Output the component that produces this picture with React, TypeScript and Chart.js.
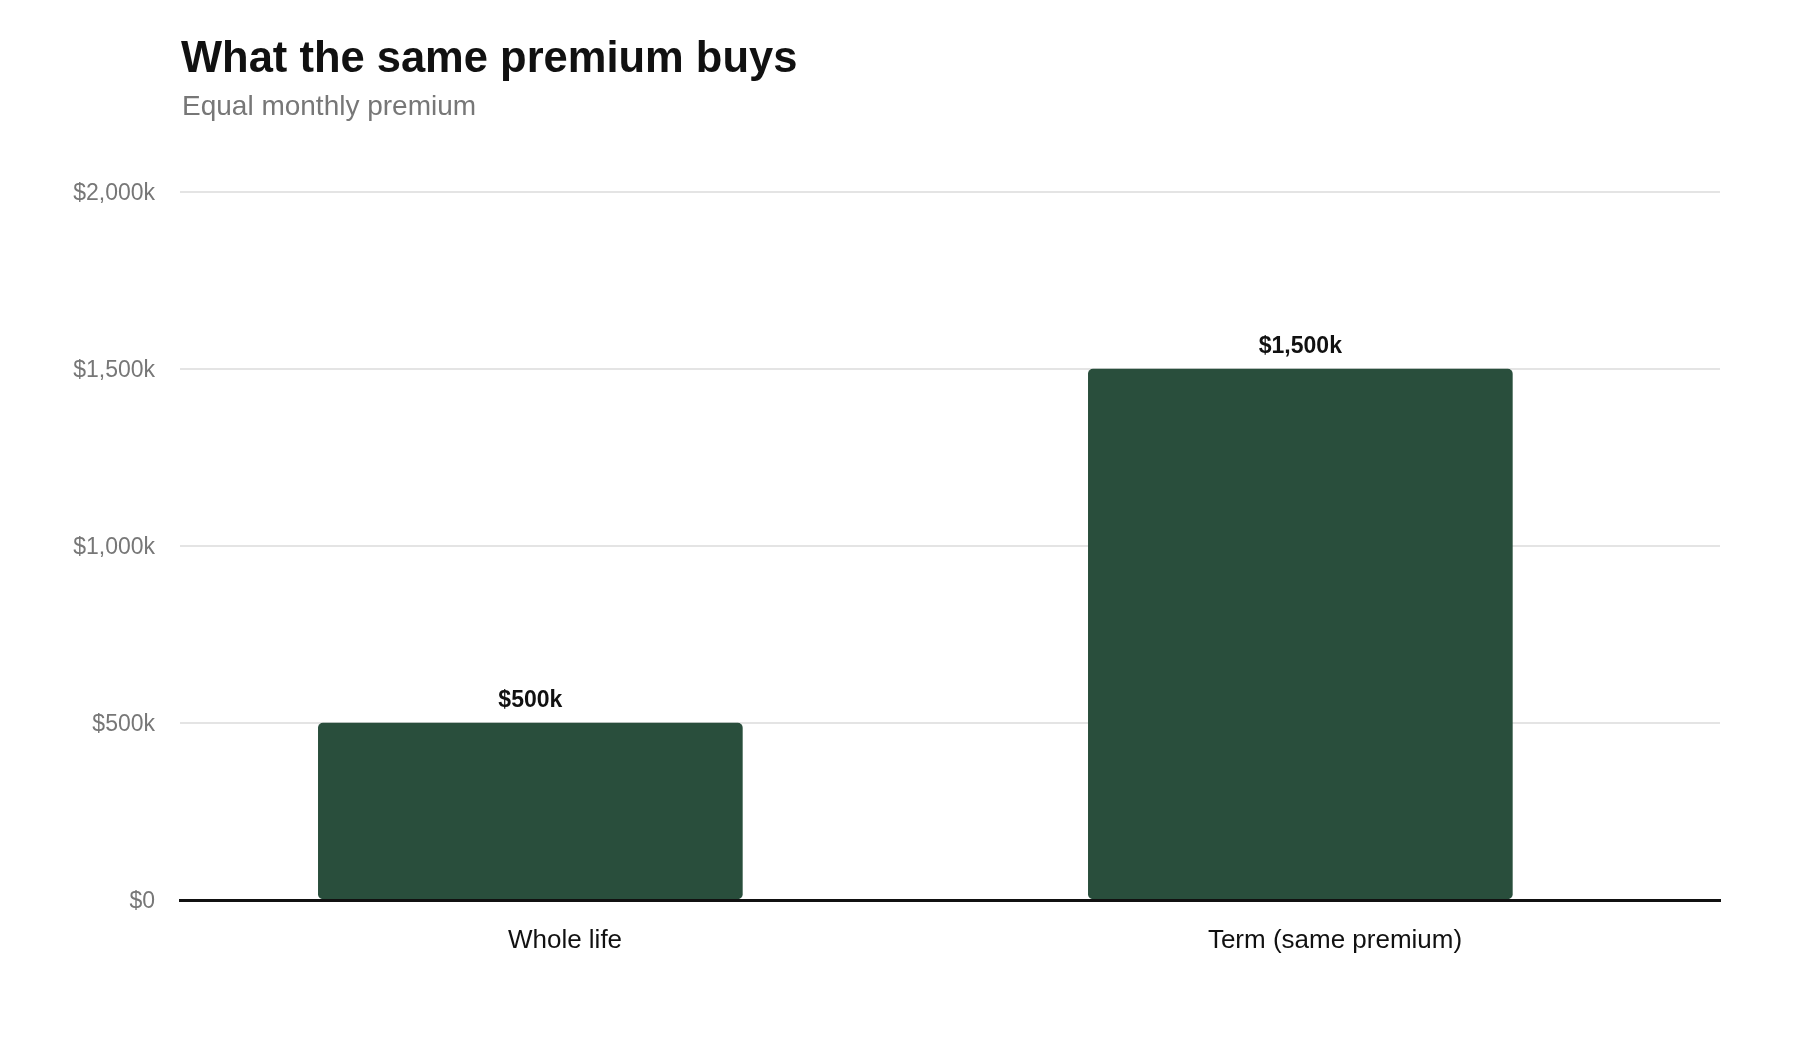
import React, { useEffect, useRef } from "react";
import { Chart, registerables } from "chart.js";

Chart.register(...registerables);

const TITLE = "What the same premium buys";
const SUBTITLE = "Equal monthly premium";

const categories = ["Whole life", "Term (same premium)"];
const coverageK = [500, 1500];
const valueLabels = ["$500k", "$1,500k"];

const yTickValues = [0, 500, 1000, 1500, 2000];
const yTickLabels = ["$0", "$500k", "$1,000k", "$1,500k", "$2,000k"];
const Y_MIN = 0;
const Y_MAX = 2000;
const Y_STEP = 500;

// bars sit slightly left of their category centre in the reference
const BAR_SHIFT = -0.045;

const FONT = "'Liberation Sans', Arial, Helvetica, sans-serif";
const BAR_COLOR = "#294e3c";
const GRID_COLOR = "#e4e4e4";
const MUTED = "#777777";
const INK = "#111111";

const valueLabelPlugin = {
  id: "valueLabels",
  afterDatasetsDraw(chart: any) {
    const meta = chart.getDatasetMeta(0);
    const ctx = chart.ctx;
    ctx.save();
    ctx.font = `bold 23px ${FONT}`;
    ctx.fillStyle = INK;
    ctx.textAlign = "center";
    ctx.textBaseline = "middle";
    meta.data.forEach((el: any, i: number) => {
      ctx.fillText(valueLabels[i], el.x, el.y - 22);
    });
    ctx.restore();
  },
};

function BarChart() {
  const ref = useRef<HTMLCanvasElement | null>(null);

  useEffect(() => {
    if (!ref.current) return;
    const chart = new Chart(ref.current, {
      type: "bar",
      data: {
        labels: categories,
        datasets: [
          {
            label: "Coverage",
            data: coverageK.map((v, i) => ({ x: i, y: v })),
            xAxisID: "xBar",
            yAxisID: "y",
            backgroundColor: BAR_COLOR,
            borderWidth: 0,
            borderRadius: 5,
            borderSkipped: false,
            barThickness: 424,
          },
        ],
      },
      options: {
        responsive: false,
        animation: false,
        devicePixelRatio: 1,
        layout: { padding: { left: 0, right: 80, top: 192, bottom: 80 } },
        plugins: {
          legend: { display: false },
          tooltip: { enabled: false },
          title: { display: false },
        },
        scales: {
          x: {
            type: "category",
            position: "bottom",
            offset: true,
            grid: { display: false, drawTicks: false },
            border: { display: true, color: INK, width: 3, z: 1 },
            ticks: {
              color: INK,
              font: { family: FONT, size: 26 },
              padding: 25,
              maxRotation: 0,
              autoSkip: false,
            },
            afterFit(s: any) {
              s.height = 60;
            },
          },
          xBar: {
            type: "linear",
            position: "bottom",
            display: false,
            offset: false,
            min: -0.5 - BAR_SHIFT,
            max: categories.length - 0.5 - BAR_SHIFT,
          },
          y: {
            type: "linear",
            min: Y_MIN,
            max: Y_MAX,
            grid: {
              color: (c: any) => (c.tick && c.tick.value === 0 ? "rgba(0,0,0,0)" : GRID_COLOR),
              lineWidth: 2,
              drawTicks: false,
            },
            border: { display: false },
            ticks: {
              stepSize: Y_STEP,
              color: MUTED,
              font: { family: FONT, size: 23 },
              padding: 25,
              labelOffset: 2,
              callback: (v: any) => {
                const idx = yTickValues.indexOf(Number(v));
                return idx >= 0 ? yTickLabels[idx] : "";
              },
            },
            afterFit(s: any) {
              s.width = 180;
            },
          },
        },
      } as any,
      plugins: [valueLabelPlugin],
    });
    return () => chart.destroy();
  }, []);

  return <canvas ref={ref} width={1800} height={1040} style={{ width: 1800, height: 1040, display: "block" }} />;
}

export default function App() {
  return (
    <div style={{ position: "absolute", left: 0, top: 0, width: 1800, height: 1040, background: "#ffffff", overflow: "hidden" }}>
      <div style={{ position: "absolute", left: 0, top: 0 }}>
        <BarChart />
      </div>
      <div
        style={{
          position: "absolute",
          left: 181,
          top: 36,
          fontFamily: FONT,
          fontWeight: 700,
          fontSize: 43.5,
          lineHeight: 1,
          color: INK,
          whiteSpace: "nowrap",
        }}
      >
        {TITLE}
      </div>
      <div
        style={{
          position: "absolute",
          left: 182,
          top: 92,
          fontFamily: FONT,
          fontSize: 28,
          lineHeight: 1,
          color: MUTED,
          whiteSpace: "nowrap",
        }}
      >
        {SUBTITLE}
      </div>
    </div>
  );
}
